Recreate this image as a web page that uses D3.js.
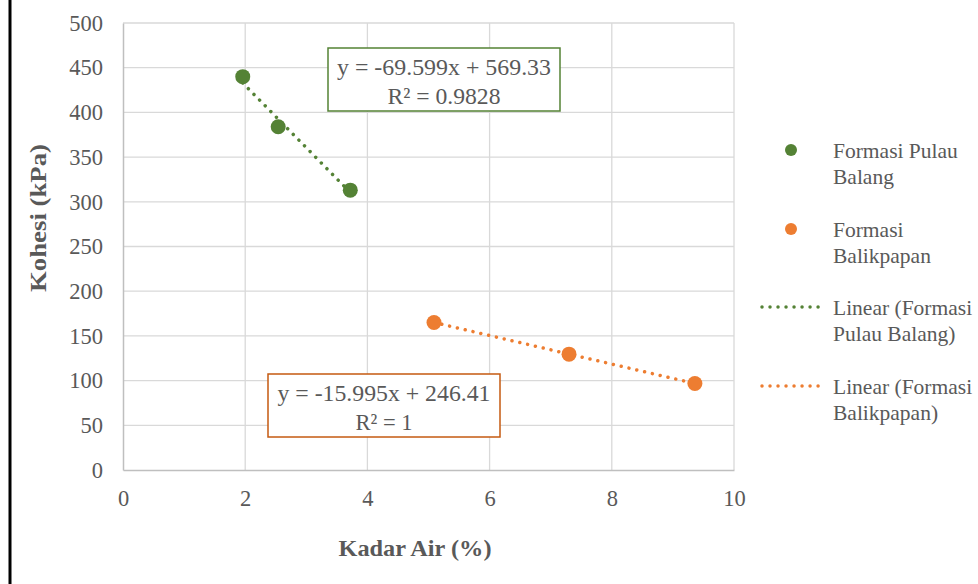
<!DOCTYPE html>
<html><head><meta charset="utf-8">
<script src="https://cdn.jsdelivr.net/npm/d3@7/dist/d3.min.js"></script>
<style>body{margin:0;background:#fff} svg{display:block}</style>
</head><body><svg id="c" width="978" height="584"></svg>
<script>
// ---- data ----
const seriesNames = ["Formasi Pulau Balang", "Formasi Balikpapan"];
const pulauBalangX = [1.96, 2.54, 3.72];
const pulauBalangY = [440, 384, 313];
const balikpapanX = [5.09, 7.30, 9.36];
const balikpapanY = [165, 129.6, 96.7];
const trendSlopes = [-69.599, -15.995];
const trendIntercepts = [569.33, 246.41];
const trendR2 = ["0.9828", "1"];
const xTicks = [0, 2, 4, 6, 8, 10];
const yTicks = [0, 50, 100, 150, 200, 250, 300, 350, 400, 450, 500];
const xTitle = "Kadar Air (%)";
const yTitle = "Kohesi (kPa)";
const legendLabels = [
  ["Formasi Pulau", "Balang"],
  ["Formasi", "Balikpapan"],
  ["Linear (Formasi", "Pulau Balang)"],
  ["Linear (Formasi", "Balikpapan)"]
];

// ---- styles ----
const colors = ["#548235", "#ED7D31"];
const boxColors = ["#548235", "#C55A11"];
const textColor = "#595959";
const font = "'Liberation Serif','Times New Roman',serif";

const svg = d3.select("#c");
const x = d3.scaleLinear().domain([0, 10]).range([123, 734]);
const y = d3.scaleLinear().domain([0, 500]).range([470, 23]);

// left border
svg.append("line").attr("x1", 10).attr("x2", 10).attr("y1", 0).attr("y2", 584)
  .attr("stroke", "#000").attr("stroke-width", 3);

// gridlines
const g = svg.append("g");
g.selectAll(".hg").data(yTicks.filter(d => d > 0)).enter().append("line")
  .attr("x1", x(0)).attr("x2", x(10)).attr("y1", d => y(d)).attr("y2", d => y(d))
  .attr("stroke", "#d9d9d9").attr("stroke-width", 1.3);
g.selectAll(".vg").data(xTicks.filter(d => d > 0)).enter().append("line")
  .attr("x1", d => x(d)).attr("x2", d => x(d)).attr("y1", y(0)).attr("y2", y(500))
  .attr("stroke", "#d9d9d9").attr("stroke-width", 1.3);

// axes
const xAxis = d3.axisBottom(x).tickValues(xTicks).tickSize(0).tickPadding(20);
const yAxis = d3.axisLeft(y).tickValues(yTicks).tickSize(0).tickPadding(20);
const gx = svg.append("g").attr("transform", `translate(0,${y(0)})`).call(xAxis);
const gy = svg.append("g").attr("transform", `translate(${x(0)},0)`).call(yAxis);
[gx, gy].forEach(a => {
  a.select(".domain").attr("stroke", "#bfbfbf").attr("stroke-width", 1.5);
  a.selectAll("text").attr("font-family", font).attr("font-size", 22.5).attr("fill", textColor);
});

// axis titles
svg.append("text").attr("x", 415).attr("y", 556).attr("text-anchor", "middle")
  .attr("font-family", font).attr("font-weight", "bold").attr("font-size", 24)
  .attr("textLength", 153).attr("lengthAdjust", "spacingAndGlyphs")
  .attr("fill", textColor).text(xTitle);
svg.append("text").attr("transform", "translate(46,218) rotate(-90)").attr("text-anchor", "middle")
  .attr("font-family", font).attr("font-weight", "bold").attr("font-size", 24)
  .attr("textLength", 148).attr("lengthAdjust", "spacingAndGlyphs")
  .attr("fill", textColor).text(yTitle);

// trendlines
const series = [
  pulauBalangX.map((v, i) => [v, pulauBalangY[i]]),
  balikpapanX.map((v, i) => [v, balikpapanY[i]])
];
const line = d3.line().x(d => x(d[0])).y(d => y(d[1]));
series.forEach((pts, s) => {
  const xs = d3.extent(pts, d => d[0]);
  const tl = xs.map(v => [v, trendSlopes[s] * v + trendIntercepts[s]]);
  svg.append("path").attr("d", line(tl)).attr("fill", "none")
    .attr("stroke", colors[s]).attr("stroke-width", 3.5)
    .attr("stroke-linecap", "round").attr("stroke-dasharray", "0.01 8");
});

// points
series.forEach((pts, s) => {
  svg.selectAll(".p" + s).data(pts).enter().append("circle")
    .attr("cx", d => x(d[0])).attr("cy", d => y(d[1])).attr("r", 7.5)
    .attr("fill", colors[s]);
});

// equation labels
const eqBoxes = [{x: 328, y: 48, w: 232, h: 63}, {x: 268, y: 374, w: 232, h: 63}];
const eqLens = [[214, 113], [213, 57]];
const fmt = v => (v < 0 ? "-" : "") + Math.abs(v);
eqBoxes.forEach((b, s) => {
  svg.append("rect").attr("x", b.x).attr("y", b.y).attr("width", b.w).attr("height", b.h)
    .attr("fill", "#fff").attr("stroke", boxColors[s]).attr("stroke-width", 1.5);
  svg.append("text").attr("font-family", font).attr("font-size", 23.5)
    .attr("fill", textColor).attr("text-anchor", "middle")
    .attr("x", b.x + b.w / 2).attr("y", b.y + 27)
    .attr("textLength", eqLens[s][0]).attr("lengthAdjust", "spacingAndGlyphs")
    .text(`y = ${fmt(trendSlopes[s])}x + ${trendIntercepts[s]}`);
  svg.append("text").attr("font-family", font).attr("font-size", 23.5)
    .attr("fill", textColor).attr("text-anchor", "middle")
    .attr("x", b.x + b.w / 2).attr("y", b.y + 56)
    .attr("textLength", eqLens[s][1]).attr("lengthAdjust", "spacingAndGlyphs")
    .text(`R² = ${trendR2[s]}`);
});

// legend
const legY = [150, 229, 307, 386];
legendLabels.forEach((lbl, i) => {
  const c = colors[i % 2];
  if (i < 2) {
    svg.append("circle").attr("cx", 791).attr("cy", legY[i]).attr("r", 6).attr("fill", c);
  } else {
    svg.append("line").attr("x1", 762).attr("x2", 824).attr("y1", legY[i]).attr("y2", legY[i])
      .attr("stroke", c).attr("stroke-width", 3.5).attr("stroke-linecap", "round")
      .attr("stroke-dasharray", "0.01 8");
  }
  const t = svg.append("text").attr("font-family", font).attr("font-size", 21.5).attr("fill", textColor);
  lbl.forEach((l, k) => t.append("tspan").attr("x", 833).attr("y", legY[i] + 8 + k * 25.5).text(l));
});
</script></body></html>
